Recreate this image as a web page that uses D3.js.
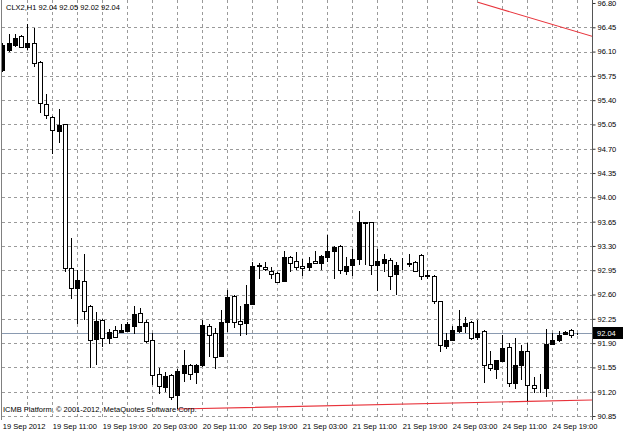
<!DOCTYPE html>
<html><head><meta charset="utf-8">
<script src="https://cdn.jsdelivr.net/npm/d3@7"></script>
<style>
body{margin:0;background:#fff}
svg{display:block}
text{font-family:"Liberation Sans",Arial,sans-serif;font-size:7.5px;fill:#000}
</style>
</head><body>
<svg id="c" width="625" height="434"></svg>
<script>
const symbolLabel = "CLX2,H1";
const lastQuote = [92.04, 92.05, 92.02, 92.04];
const copyright = "ICMB Platform, \u00A9 2001-2012, MetaQuotes Software Corp.";

const opens = [95.83,96.13,96.19,96.32,96.16,96.23,95.95,95.34,95.16,94.96,
95.06,92.98,92.70,92.79,92.43,91.96,92.24,91.98,92.09,92.06,
92.08,92.15,92.33,92.21,91.95,91.46,91.27,91.44,91.15,91.47,
91.59,91.48,91.59,92.15,92.04,91.72,92.21,92.58,92.22,92.19,
92.47,93.01,92.99,92.94,92.91,92.80,93.14,93.08,93.01,92.99,
93.09,93.06,93.14,93.23,93.30,92.94,93.02,93.11,93.63,93.64,
93.03,93.06,93.10,92.90,93.06,93.04,93.07,93.17,92.88,92.87,
92.50,91.86,91.95,92.07,92.14,92.20,91.99,92.08,91.60,91.53,
91.64,91.85,91.32,91.59,91.78,91.30,91.25,91.26,91.89,91.94,
92.03,92.09,92.04];
const highs = [96.22,96.35,96.35,96.34,96.50,96.44,95.96,95.49,95.17,95.28,
95.06,93.41,92.95,93.19,92.45,92.35,92.25,92.11,92.15,92.18,
92.21,92.43,92.40,92.23,92.05,91.54,91.49,91.46,91.53,91.80,
91.60,91.60,92.24,92.18,92.12,92.38,92.67,92.59,92.43,92.74,
93.07,93.05,93.07,93.00,92.93,93.22,93.16,93.21,93.11,93.14,
93.22,93.17,93.46,93.30,93.31,93.14,93.25,93.81,93.65,93.65,
93.25,93.19,93.12,93.07,93.12,93.18,93.08,93.18,92.95,92.88,
92.50,92.04,92.14,92.38,92.27,92.22,92.24,92.09,91.78,91.66,
92.01,91.90,91.98,91.87,91.90,91.41,91.46,92.10,92.05,92.07,
92.07,92.10,92.05];
const lows = [95.80,96.09,96.17,96.16,96.12,95.88,95.22,95.13,94.62,94.78,
92.93,92.53,92.18,92.23,91.54,91.58,91.85,91.89,91.97,92.04,
92.06,92.03,92.19,91.90,91.30,91.17,91.20,91.08,90.95,91.34,
91.37,91.31,91.56,91.70,91.53,91.71,92.06,92.12,92.00,92.02,
92.46,92.83,92.94,92.82,92.77,92.79,92.93,92.95,92.86,92.94,
93.04,92.96,93.07,92.82,92.90,92.88,92.86,93.02,93.02,92.88,
92.65,92.93,92.67,92.59,92.95,93.00,92.93,92.81,92.82,92.47,
91.77,91.81,91.93,92.04,92.05,91.94,91.94,91.33,91.50,91.38,
91.63,91.27,91.24,91.37,91.06,91.18,91.18,91.12,91.87,91.92,
92.01,91.97,92.02];
const closes = [96.19,96.22,96.29,96.17,96.23,95.93,95.36,95.18,94.97,95.04,
92.98,92.69,92.81,92.36,91.94,92.22,91.97,92.06,91.99,92.09,
92.17,92.32,92.21,91.93,91.44,91.28,91.43,91.13,91.50,91.59,
91.46,91.59,92.16,92.02,91.70,92.21,92.57,92.21,92.18,92.46,
93.01,93.02,92.97,92.90,92.78,93.14,93.06,92.99,92.98,93.06,
93.06,93.16,93.23,93.29,92.96,93.01,93.11,93.64,93.64,93.02,
93.08,93.11,92.87,93.02,93.06,93.06,92.94,92.86,92.87,92.50,
91.87,91.95,92.09,92.14,92.19,91.98,92.05,91.59,91.54,91.65,
91.83,91.33,91.58,91.79,91.30,91.25,91.26,91.89,91.94,92.02,
92.06,92.02,92.04];

const priceTicks = [96.80,96.45,96.10,95.75,95.40,95.05,94.70,94.35,94.00,93.65,93.30,92.95,92.60,92.25,91.90,91.55,91.20,90.85];
const timeTickBars = [0,8,16,24,32,40,48,56,64,72,80,88];
const timeLabels = ["19 Sep 2012","19 Sep 11:00","19 Sep 19:00","20 Sep 03:00","20 Sep 11:00","20 Sep 19:00","21 Sep 03:00","21 Sep 11:00","21 Sep 19:00","24 Sep 03:00","24 Sep 11:00","24 Sep 19:00"];
const gridBars = [4,8,12,16,20,24,28,32,36,40,44,48,52,56,60,64,68,72,76,80,84,88,92];
const bidPrice = 92.04;
const trendUpperBars = [76.1, 94.4];
const trendUpperPrices = [96.81, 96.32];
const trendLowerBars = [28, 84, 95];
const trendLowerPrices = [90.95, 91.06, 91.082];

const W = 625, H = 434;
const plotL = 2, plotR = 592, plotT = 0, plotB = 420;

const svg = d3.select("#c");
svg.append("rect").attr("width", W).attr("height", H).attr("fill", "#fff");

const x = d3.scaleLinear().domain([0, 92]).range([2.3, 577.3]);
const y = d3.scaleLinear().domain([90.85, 96.80]).range([416, 3]);

svg.append("defs").append("clipPath").attr("id", "clip")
  .append("rect").attr("x", plotL).attr("y", plotT).attr("width", plotR - plotL).attr("height", plotB - plotT);

// grid
const grid = svg.append("g").attr("stroke", "#9a9a9a").attr("stroke-dasharray", "3,3").attr("stroke-width", 1);
grid.selectAll("line.h").data(priceTicks.slice(1)).join("line")
  .attr("x1", plotL).attr("x2", plotR)
  .attr("y1", d => Math.round(y(d)) + 0.5).attr("y2", d => Math.round(y(d)) + 0.5);
grid.selectAll("line.v").data(gridBars).join("line")
  .attr("x1", d => Math.round(x(d)) + 0.5).attr("x2", d => Math.round(x(d)) + 0.5)
  .attr("y1", plotT).attr("y2", plotB);

const plot = svg.append("g").attr("clip-path", "url(#clip)");

// bid line
plot.append("line")
  .attr("x1", plotL).attr("x2", plotR)
  .attr("y1", Math.round(y(bidPrice)) + 0.5).attr("y2", Math.round(y(bidPrice)) + 0.5)
  .attr("stroke", "#8a9ab0").attr("stroke-width", 1);

// trend lines
const tl = d3.line().x(d => x(d[0])).y(d => y(d[1]));
plot.append("path").datum(trendUpperBars.map((b, i) => [b, trendUpperPrices[i]]))
  .attr("d", tl).attr("fill", "none").attr("stroke", "#e8333b").attr("stroke-width", 1.1);
plot.append("path").datum(trendLowerBars.map((b, i) => [b, trendLowerPrices[i]]))
  .attr("d", tl).attr("fill", "none").attr("stroke", "#e8333b").attr("stroke-width", 1.1);

// candles
const bars = opens.map((o, i) => ({i, o, h: highs[i], l: lows[i], c: closes[i]}));
const cg = plot.append("g").attr("shape-rendering", "crispEdges");
cg.selectAll("line.wick").data(bars).join("line")
  .attr("x1", d => Math.round(x(d.i)) + 0.5).attr("x2", d => Math.round(x(d.i)) + 0.5)
  .attr("y1", d => y(d.h)).attr("y2", d => y(d.l))
  .attr("stroke", "#000").attr("stroke-width", 1);
cg.selectAll("rect.body").data(bars).join("rect")
  .attr("x", d => Math.round(x(d.i)) - 1.5)
  .attr("width", 4)
  .attr("y", d => Math.round(y(Math.max(d.o, d.c))) + 0.5)
  .attr("height", d => Math.max(0, Math.round(y(Math.min(d.o, d.c))) - Math.round(y(Math.max(d.o, d.c)))))
  .attr("fill", d => d.c > d.o ? "#000" : "#fff")
  .attr("stroke", "#000").attr("stroke-width", 1);

// left border
svg.append("line").attr("x1", 1.5).attr("x2", 1.5).attr("y1", plotT).attr("y2", plotB)
  .attr("stroke", "#808080").attr("stroke-width", 1);

// right axis
const yAxis = d3.axisRight(y).tickValues(priceTicks).tickFormat(d3.format(".2f")).tickSize(3).tickSizeOuter(0).tickPadding(2);
const ya = svg.append("g").attr("transform", `translate(${plotR + 0.5},0)`).call(yAxis);
ya.select(".domain").remove();
ya.selectAll(".tick line").attr("stroke", "#333");
ya.selectAll(".tick text").attr("font-size", "7.5px").attr("font-family", "Liberation Sans, Arial, sans-serif").attr("fill", "#000");
svg.append("line").attr("x1", plotR + 0.5).attr("x2", plotR + 0.5).attr("y1", 0).attr("y2", plotB)
  .attr("stroke", "#555").attr("stroke-width", 1);

// bid price tag
const tagY = Math.round(y(bidPrice));
svg.append("rect").attr("x", plotR + 1).attr("y", tagY - 6).attr("width", 30).attr("height", 12).attr("fill", "#000");
svg.append("text").attr("x", plotR + 5).attr("y", tagY).attr("dy", "0.35em")
  .style("fill", "#fff").text(d3.format(".2f")(bidPrice));

// bottom axis
const xAxis = d3.axisBottom(x).tickValues(timeTickBars).tickFormat((d, i) => timeLabels[i]).tickSize(0).tickPadding(4);
const xa = svg.append("g").attr("transform", `translate(0,${plotB})`).call(xAxis);
xa.select(".domain").remove();
xa.selectAll(".tick text").attr("text-anchor", "start").attr("font-size", "7.5px")
  .attr("font-family", "Liberation Sans, Arial, sans-serif").attr("fill", "#000");

// header & copyright
svg.append("text").attr("x", 6).attr("y", 9.5)
  .text(symbolLabel + "  " + lastQuote.map(d3.format(".2f")).join(" "));
svg.append("text").attr("x", 3).attr("y", 412).text(copyright);
</script>
</body></html>
